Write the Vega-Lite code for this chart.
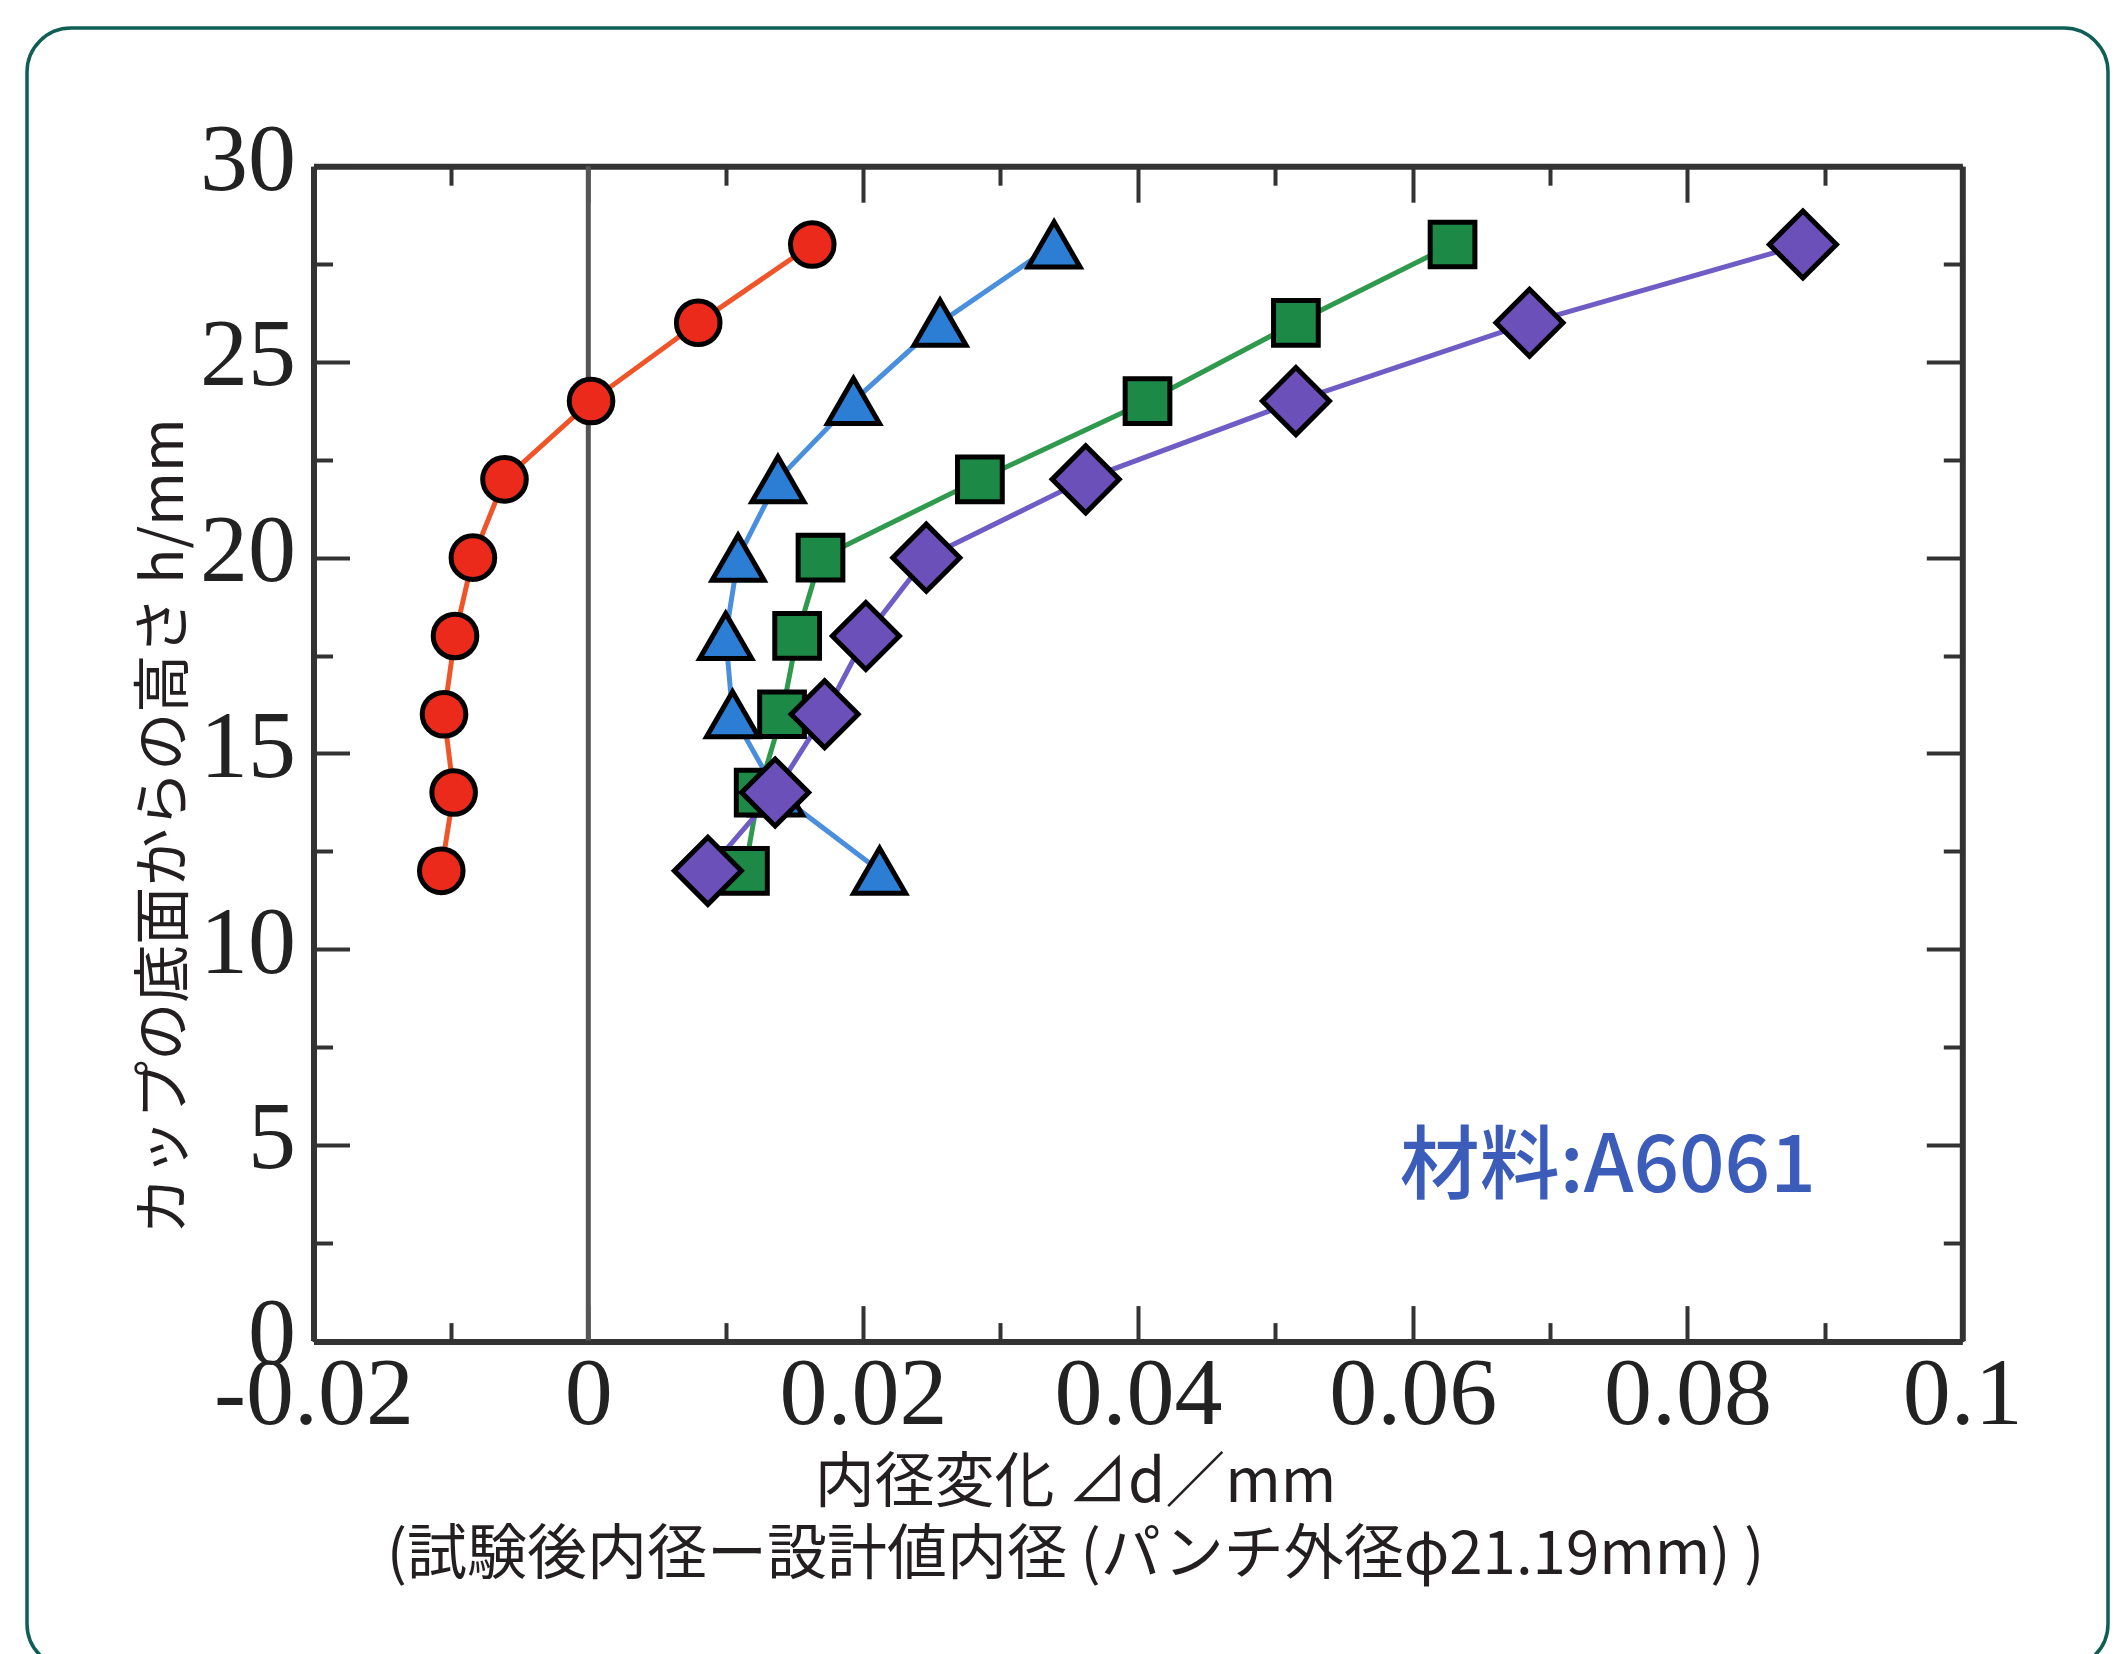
{
  "$schema": "https://vega.github.io/schema/vega-lite/v6.json",
  "width": 2081,
  "height": 1640,
  "autosize": {"type": "none"},
  "padding": {"left": 27, "top": 28, "right": 11, "bottom": 0},
  "background": "#ffffff",
  "config": {
    "view": {"stroke": "#0f5f57", "strokeWidth": 3.5, "cornerRadius": 44, "fill": "#ffffff"},
    "axis": {"grid": false, "tickColor": "#333333", "tickWidth": 4, "domainColor": "#333333", "domainWidth": 6, "labelFont": "Liberation Serif", "labelFontSize": 96, "labelColor": "#222222", "labelFlush": false, "labelOverlap": false, "labelLimit": 0}
  },
  "datasets": {
    "pts": [
      {"s": "circle", "h": 12, "d": -0.0107},
      {"s": "circle", "h": 14, "d": -0.0098},
      {"s": "circle", "h": 16, "d": -0.0105},
      {"s": "circle", "h": 18, "d": -0.0097},
      {"s": "circle", "h": 20, "d": -0.0084},
      {"s": "circle", "h": 22, "d": -0.0061},
      {"s": "circle", "h": 24, "d": 0.0002},
      {"s": "circle", "h": 26, "d": 0.0080},
      {"s": "circle", "h": 28, "d": 0.0163},
      {"s": "triangle", "h": 12, "d": 0.0212},
      {"s": "triangle", "h": 14, "d": 0.0137},
      {"s": "triangle", "h": 16, "d": 0.0105},
      {"s": "triangle", "h": 18, "d": 0.0100},
      {"s": "triangle", "h": 20, "d": 0.0109},
      {"s": "triangle", "h": 22, "d": 0.0138},
      {"s": "triangle", "h": 24, "d": 0.0193},
      {"s": "triangle", "h": 26, "d": 0.0256},
      {"s": "triangle", "h": 28, "d": 0.0339},
      {"s": "square", "h": 12, "d": 0.0114},
      {"s": "square", "h": 14, "d": 0.0124},
      {"s": "square", "h": 16, "d": 0.0141},
      {"s": "square", "h": 18, "d": 0.0152},
      {"s": "square", "h": 20, "d": 0.0169},
      {"s": "square", "h": 22, "d": 0.0285},
      {"s": "square", "h": 24, "d": 0.0407},
      {"s": "square", "h": 26, "d": 0.0515},
      {"s": "square", "h": 28, "d": 0.0629},
      {"s": "diamond", "h": 12, "d": 0.0087},
      {"s": "diamond", "h": 14, "d": 0.0136},
      {"s": "diamond", "h": 16, "d": 0.0172},
      {"s": "diamond", "h": 18, "d": 0.0202},
      {"s": "diamond", "h": 20, "d": 0.0246},
      {"s": "diamond", "h": 22, "d": 0.0362},
      {"s": "diamond", "h": 24, "d": 0.0515},
      {"s": "diamond", "h": 26, "d": 0.0685},
      {"s": "diamond", "h": 28, "d": 0.0884}
    ]
  },
  "layer": [
    {
      "data": {"values": [{"d": 0, "h0": 0, "h1": 30}]},
      "mark": {"type": "rule", "color": "#555555", "strokeWidth": 5},
      "encoding": {
        "x": {"field": "d", "type": "quantitative",
          "scale": {"domain": [-0.02, 0.1], "range": [286.5, 1935.3], "nice": false, "zero": false},
          "axis": {"orient": "bottom", "values": [-0.01, 0.01, 0.03, 0.05, 0.07, 0.09], "labels": false, "domain": false, "ticks": true, "tickSize": -19, "offset": -326.4, "title": null}},
        "y": {"field": "h0", "type": "quantitative",
          "scale": {"domain": [0, 30], "range": [1312.6, 138.2], "nice": false, "zero": false},
          "axis": {"orient": "left", "values": [2.5, 7.5, 12.5, 17.5, 22.5, 27.5], "labels": false, "domain": false, "ticks": true, "tickSize": -19, "offset": -286.5, "title": null}},
        "y2": {"field": "h1"}
      }
    },
    {
      "data": {"name": "pts"},
      "mark": {"type": "line", "strokeWidth": 5},
      "encoding": {
        "x": {"field": "d", "type": "quantitative",
          "scale": {"domain": [-0.02, 0.1], "range": [286.5, 1935.3], "nice": false, "zero": false},
          "axis": {"orient": "bottom", "values": [-0.02, 0, 0.02, 0.04, 0.06, 0.08, 0.1],
            "labelExpr": "datum.value < 0 ? '-' + format(-datum.value, '~g') : format(datum.value, '~g')",
            "tickSize": -36, "labelPadding": 42, "offset": -326.4,
            "title": ["内径変化  ⊿d／mm", "(試験後内径ー設計値内径 (パンチ外径φ21.19mm) )"],
            "titleFont": "Noto Sans CJK JP", "titleFontSize": 60, "titleFontWeight": "normal", "titleColor": "#231f20",
            "titleX": 1048, "titleY": 160, "titleAlign": "center", "titleBaseline": "alphabetic", "titleLineHeight": 72}},
        "y": {"field": "h", "type": "quantitative",
          "scale": {"domain": [0, 30], "range": [1312.6, 138.2], "nice": false, "zero": false},
          "axis": {"orient": "left", "values": [0, 5, 10, 15, 20, 25, 30],
            "tickSize": -36, "labelPadding": 54, "labelOffset": -6, "offset": -286.5,
            "title": "カップの底面からの高さ h/mm",
            "titleFont": "Noto Sans CJK JP", "titleFontSize": 58, "titleFontWeight": "normal", "titleColor": "#231f20",
            "titleAngle": 270, "titleX": -131.5, "titleY": 798, "titleAlign": "center", "titleBaseline": "alphabetic"}},
        "stroke": {"field": "s", "type": "nominal",
          "scale": {"domain": ["circle", "triangle", "square", "diamond"], "range": ["#f0552a", "#4a8ede", "#2f9a4e", "#6f5cc4"]},
          "legend": null},
        "order": {"field": "h", "type": "quantitative"}
      }
    },
    {
      "data": {"name": "pts"},
      "mark": {"type": "point", "filled": true, "stroke": "#000000", "strokeWidth": 5, "opacity": 1, "fillOpacity": 1, "strokeOpacity": 1},
      "encoding": {
        "x": {"field": "d", "type": "quantitative",
          "scale": {"domain": [-0.02, 0.1], "range": [286.5, 1935.3], "nice": false, "zero": false},
          "axis": {"orient": "top", "values": [-0.02, 0, 0.02, 0.04, 0.06, 0.08, 0.1], "labels": false, "tickSize": -36, "offset": -138.2, "title": null}},
        "y": {"field": "h", "type": "quantitative",
          "scale": {"domain": [0, 30], "range": [1312.6, 138.2], "nice": false, "zero": false},
          "axis": {"orient": "right", "values": [0, 5, 10, 15, 20, 25, 30], "labels": false, "tickSize": -36, "offset": -145.7, "title": null}},
        "fill": {"field": "s", "type": "nominal",
          "scale": {"domain": ["circle", "triangle", "square", "diamond"], "range": ["#ec2a1c", "#2b7ed3", "#1c8a46", "#6a50b8"]},
          "legend": null},
        "shape": {"field": "s", "type": "nominal",
          "scale": {"domain": ["circle", "triangle", "square", "diamond"], "range": ["circle", "triangle-up", "square", "diamond"]},
          "legend": null},
        "size": {"field": "s", "type": "nominal",
          "scale": {"type": "ordinal", "domain": ["circle", "triangle", "square", "diamond"], "range": [1900, 2700, 2000, 4500]},
          "legend": null}
      }
    },
    {
      "data": {"values": [{"d": 0.0742, "h": 4.4, "label": "材料:A6061"}]},
      "mark": {"type": "text", "font": "Noto Sans CJK JP", "fontSize": 80, "fontWeight": 500, "color": "#3b5cb8", "align": "center", "baseline": "middle"},
      "encoding": {
        "x": {"field": "d", "type": "quantitative",
          "scale": {"domain": [-0.02, 0.1], "range": [286.5, 1935.3], "nice": false, "zero": false},
          "axis": {"orient": "top", "values": [-0.01, 0.01, 0.03, 0.05, 0.07, 0.09], "labels": false, "domain": false, "tickSize": -19, "offset": -138.2, "title": null}},
        "y": {"field": "h", "type": "quantitative",
          "scale": {"domain": [0, 30], "range": [1312.6, 138.2], "nice": false, "zero": false},
          "axis": {"orient": "right", "values": [2.5, 7.5, 12.5, 17.5, 22.5, 27.5], "labels": false, "domain": false, "tickSize": -19, "offset": -145.7, "title": null}},
        "text": {"field": "label"}
      }
    }
  ],
  "resolve": {"axis": {"x": "independent", "y": "independent"}}
}
